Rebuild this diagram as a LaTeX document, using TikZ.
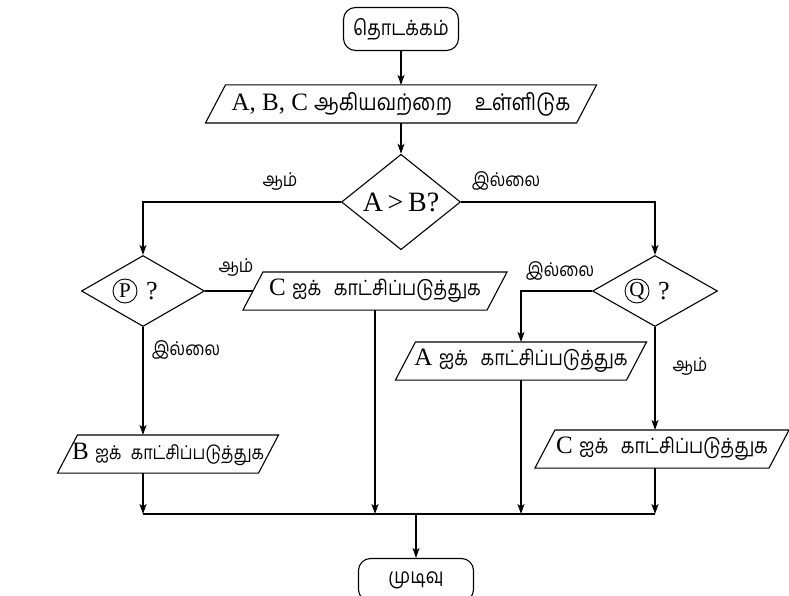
\documentclass[tikz,border=0pt]{standalone}
\usepackage{fontspec}
\setmainfont{Liberation Serif}
\newfontfamily\ta[Script=Tamil,FakeStretch=0.85]{Hind Madurai}
\usetikzlibrary{shapes.geometric,arrows.meta}
\begin{document}
\begin{tikzpicture}[x=1pt,y=-1pt, line width=1.1pt,
  arr/.style={-{Stealth[length=10pt,width=7pt,inset=2.5pt]}},
  term/.style={draw, rounded corners=12pt, minimum width=115pt, minimum height=43pt, inner sep=0pt, font=\ta\fontsize{21}{24}\selectfont},
  dec/.style={diamond, draw, inner sep=0pt, font=\fontsize{28}{30}\selectfont},
  circ/.style={draw, circle, minimum size=24pt, inner sep=0pt, line width=0.9pt, font=\fontsize{21}{22}\selectfont},
  qm/.style={inner sep=0pt, font=\fontsize{26}{28}\selectfont},
  io/.style={inner sep=0pt, minimum height=37pt, font=\fontsize{25}{27}\selectfont},
  lab/.style={font=\ta\fontsize{19}{22}\selectfont, inner sep=0pt}]
\useasboundingbox (0,0) rectangle (789,596);
% terminals
\node[term] (start) at (401,29) {தொடக்கம்};
\node[term] (end) at (416,580) {முடிவு};
% input / output
\node[io, minimum width=370pt] (in) at (401,104) {A, B, C {\ta\fontsize{23}{26}\selectfont ஆகியவற்றை\hspace{1em}உள்ளிடுக}};
\node[io, minimum width=243pt] (c1) at (375,291) {C {\ta\fontsize{21}{24}\selectfont ஐக்\hspace{0.6em}காட்சிப்படுத்துக}};
\node[io, minimum width=200pt] (b) at (168,454) {B {\ta\fontsize{19}{24}\selectfont ஐக்\hspace{0.5em}காட்சிப்படுத்துக}};
\node[io, minimum width=230pt] (a) at (521,361) {A {\ta\fontsize{21}{24}\selectfont ஐக்\hspace{0.6em}காட்சிப்படுத்துக}};
\node[io, minimum width=233pt] (c2) at (662,449) {C {\ta\fontsize{21}{24}\selectfont ஐக்\hspace{0.6em}காட்சிப்படுத்துக}};
\foreach \n in {in,c1,b,a,c2}
  \draw ([xshift=-10pt]\n.south west) -- ([xshift=10pt]\n.north west) -- ([xshift=10pt]\n.north east) -- ([xshift=-10pt]\n.south east) -- cycle;
% decisions
\node[dec, minimum width=119pt, minimum height=69pt] (d1) at (401,202) {A\,>\,B?};
\node[dec, minimum width=123pt, minimum height=71pt] (P) at (143,291) {};
\node[dec, minimum width=125pt, minimum height=71pt] (Q) at (655,291) {};
\node[circ] (pc) at ([xshift=-18pt]P.center) {P};
\node[qm, anchor=west] (pq) at ([xshift=8pt]pc.east) {?};
\node[circ] (qc) at ([xshift=-18pt]Q.center) {Q};
\node[qm, anchor=west] (qq) at ([xshift=8pt]qc.east) {?};
% labels
\node[lab] (l1) at (280,182) {ஆம்};
\node[lab] (l2) at (506,181) {இல்லை};
\node[lab] (l3) at (236,268) {ஆம்};
\node[lab] (l4) at (560,271) {இல்லை};
\node[lab] (l5) at (186,350) {இல்லை};
\node[lab] (l6) at (690,366) {ஆம்};
% merge line
\coordinate (m1) at (143,514);
\coordinate (m4) at (655,514);
% connectors
\draw[arr] (start.south) -- (start.south |- in.north);
\draw[arr] (start.south |- in.south) -- (start.south |- d1.north);
\draw[arr] (d1.west) -| (P.north);
\draw[arr] (d1.east) -| (Q.north);
\draw (P.east) -- (c1.west);
\draw[arr] (P.south) -- (P.south |- b.north);
\draw[arr] (Q.west) -| (a.north);
\draw[arr] (Q.south) -- (Q.south |- c2.north);
\draw (m1) -- (m4);
\draw[arr] (P.south |- b.south) -- (m1);
\draw[arr] (c1.south) -- (c1.south |- m1);
\draw[arr] (a.south) -- (a.south |- m1);
\draw[arr] (Q.south |- c2.south) -- (m4);
\draw[arr] (end.north |- m1) -- (end.north);
\end{tikzpicture}
\end{document}
